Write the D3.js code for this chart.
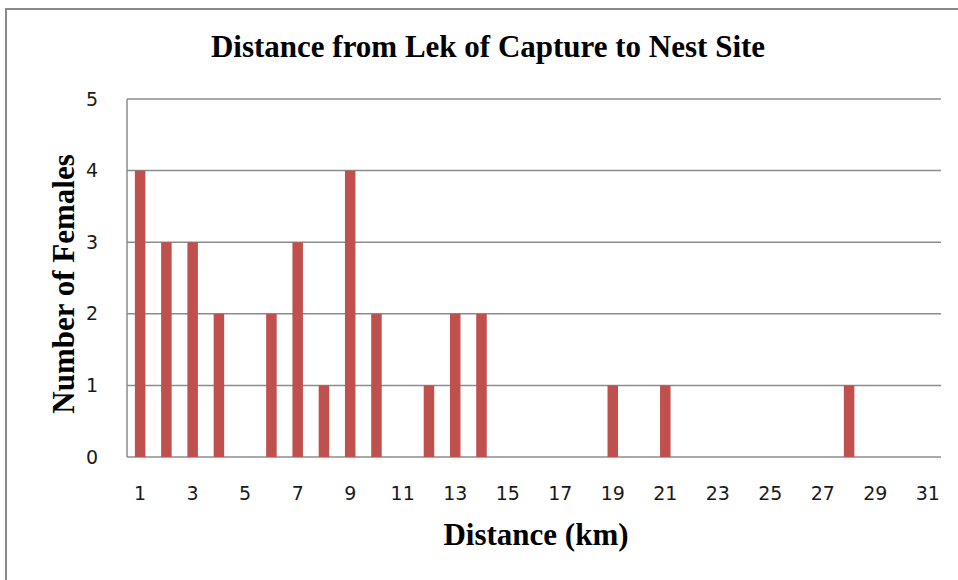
<!DOCTYPE html>
<html>
  <head>
    <meta charset="UTF-8" />
    <style>
      body { margin: 0; background: white; }
      svg { display: block; }
      .tick text { font-family: "DejaVu Sans", Verdana, sans-serif; font-size: 19px; fill: #1a1a1a; }
      .ttl { font-family: "Liberation Serif", "Times New Roman", serif; font-weight: bold; font-size: 31px; fill: black; }
    </style>
  </head>
  <body>
    <svg></svg>
    <script src="https://d3js.org/d3.v7.min.js"></script>
    <script>
      // distance classes (km) and number of females per class
      let distances = d3.range(1, 32);
      let females = [4, 3, 3, 2, 0, 2, 3, 1, 4, 2, 0, 1, 2, 2, 0, 0, 0, 0, 1, 0, 1, 0, 0, 0, 0, 0, 0, 1, 0, 0, 0];
      let xTickLabels = [1, 3, 5, 7, 9, 11, 13, 15, 17, 19, 21, 23, 25, 27, 29, 31];
      let yTicks = [0, 1, 2, 3, 4, 5];

      let width = 958,
        height = 580;
      let plotLeft = 127, plotRight = 941, plotTop = 99, plotBottom = 457;

      let svg = d3.select("svg").attr("width", width).attr("height", height);

      // outer chart border (runs off the page right / bottom)
      svg.append("rect")
        .attr("x", 6).attr("y", 9)
        .attr("width", 1000).attr("height", 700)
        .attr("fill", "white")
        .attr("stroke", "#8a8a8a")
        .attr("stroke-width", 2);

      let x = d3.scaleBand()
        .domain(distances)
        .range([plotLeft, plotRight])
        .paddingInner(0.6)
        .paddingOuter(0.3);

      let y = d3.scaleLinear().domain([0, 5]).range([plotBottom, plotTop]);

      // gridlines
      svg.append("g")
        .selectAll("line")
        .data(yTicks)
        .join("line")
        .attr("x1", plotLeft).attr("x2", plotRight)
        .attr("y1", d => y(d)).attr("y2", d => y(d))
        .attr("stroke", "#8c8c8c")
        .attr("stroke-width", 1.5);

      // bars
      svg.append("g")
        .selectAll("rect")
        .data(distances.map((d, i) => ({ km: d, n: females[i] })).filter(d => d.n > 0))
        .join("rect")
        .attr("x", d => x(d.km))
        .attr("width", x.bandwidth())
        .attr("y", d => y(d.n))
        .attr("height", d => y(0) - y(d.n))
        .attr("fill", "#c0504d");

      // left axis line
      svg.append("line")
        .attr("x1", plotLeft).attr("x2", plotLeft)
        .attr("y1", plotTop).attr("y2", plotBottom)
        .attr("stroke", "#8c8c8c")
        .attr("stroke-width", 1.5);

      let xAxis = svg.append("g")
        .attr("transform", `translate(0,${plotBottom})`)
        .call(d3.axisBottom(x).tickValues(xTickLabels).tickSize(0).tickPadding(30));
      xAxis.select(".domain").remove();
      xAxis.selectAll("text").attr("font-family", null).attr("font-size", null);

      let yAxis = svg.append("g")
        .attr("transform", `translate(98,0)`)
        .call(d3.axisLeft(y).tickValues(yTicks).tickFormat(d3.format("d")).tickSize(0).tickPadding(0));
      yAxis.select(".domain").remove();
      yAxis.selectAll("text").attr("font-family", null).attr("font-size", null);

      // titles
      svg.append("text").attr("class", "ttl")
        .attr("x", 488).attr("y", 57)
        .attr("text-anchor", "middle")
        .text("Distance from Lek of Capture to Nest Site");

      svg.append("text").attr("class", "ttl")
        .attr("x", 536).attr("y", 545)
        .attr("text-anchor", "middle")
        .text("Distance (km)");

      svg.append("text").attr("class", "ttl")
        .attr("transform", "translate(74,284) rotate(-90)")
        .attr("text-anchor", "middle")
        .text("Number of Females");
    </script>
  </body>
</html>
